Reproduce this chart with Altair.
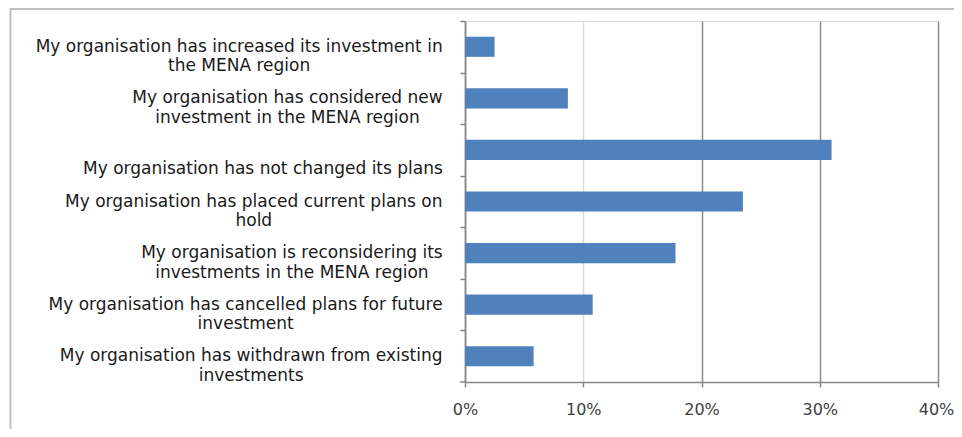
import altair as alt
import pandas as pd

# ---- data ----
label_lines = [
    ["My organisation has increased its investment in", "the MENA region"],
    ["My organisation has considered new", "investment in the MENA region"],
    ["My organisation has not changed its plans"],
    ["My organisation has placed current plans on", "hold"],
    ["My organisation is reconsidering its", "investments in the MENA region"],
    ["My organisation has cancelled plans for future", "investment"],
    ["My organisation has withdrawn from existing", "investments"],
]
shares = [0.025, 0.087, 0.310, 0.235, 0.178, 0.108, 0.058]
x_ticks = [0, 0.1, 0.2, 0.3, 0.4]

# ---- layout constants ----
W, H = 473, 361
FONT = "DejaVu Sans"
FS = 17
GAP = 22
STEP = H / len(label_lines)

# approximate DejaVu Sans advance widths (units per 2048 em)
ADV = {' ': 651, 'a': 1255, 'b': 1300, 'c': 1126, 'd': 1300, 'e': 1260, 'f': 721,
       'g': 1300, 'h': 1298, 'i': 569, 'j': 569, 'k': 1186, 'l': 569, 'm': 1995,
       'n': 1298, 'o': 1253, 'p': 1300, 'q': 1300, 'r': 842, 's': 1067, 't': 803,
       'u': 1298, 'v': 1212, 'w': 1675, 'x': 1212, 'y': 1212, 'z': 1075,
       'M': 1767, 'E': 1294, 'N': 1532, 'A': 1401}


def text_w(s):
    return sum(ADV.get(c, 1250) for c in s) / 2048 * FS


keys = [" ".join(l) for l in label_lines]
records = []
for key, lines, v in zip(keys, label_lines, shares):
    padded = [""] * (2 - len(lines)) + lines
    cx = -(GAP + max(text_w(s) for s in lines) / 2)
    records.append({"key": key, "lines": padded, "share": v, "cx": cx})

data = alt.Data(values=records)

y_enc = alt.Y(
    "key:N",
    sort=keys,
    scale=alt.Scale(paddingInner=0.61, paddingOuter=0.305),
    axis=alt.Axis(
        labels=False, title=None, grid=False,
        domainColor="#868686", domainWidth=1.5,
        tickColor="#868686", tickWidth=1.5, tickSize=5,
        tickOffset=-STEP / 2,
    ),
)

bars = alt.Chart(data).mark_bar(color="#4f81bd").encode(
    x=alt.X(
        "share:Q",
        scale=alt.Scale(domain=[0, 0.4], nice=False),
        axis=alt.Axis(
            values=x_ticks, format=".0%", title=None,
            labelFont=FONT, labelFontSize=16, labelColor="#404040",
            labelPadding=14, labelFlush=False,
            labelOffset={"condition": {"test": "datum.value > 0.35", "value": -2},
                         "value": 0},
            domainColor="#868686", domainWidth=1.5,
            tickColor="#868686", tickWidth=1.5, tickSize=5,
            grid=True, gridWidth=1.5,
            gridColor={"condition": {"test": "datum.value > 0.05 && datum.value < 0.15",
                                     "value": "#d9d9d9"},
                       "value": "#8c8c8c"},
        ),
    ),
    y=y_enc,
)

labels = alt.Chart(data).mark_text(
    align="center", baseline="middle", font=FONT, fontSize=FS,
    lineHeight=19.5, color="#1a1a1a",
).encode(
    x=alt.X("cx:Q", scale=None),
    y=y_enc,
    text="lines:N",
)

one = alt.Data(values=[{"a": 0}])
frame = alt.Chart(one).mark_rect(filled=False, stroke="#bfbfbf", strokeWidth=2).encode(
    x=alt.value(-454.5), x2=alt.value(W + 200),
    y=alt.value(-12), y2=alt.value(H + 200),
)
bottom_tick = alt.Chart(one).mark_rule(color="#868686", strokeWidth=1.5).encode(
    x=alt.value(-5), x2=alt.value(0), y=alt.value(H),
)

chart = alt.layer(frame, bars, labels, bottom_tick).properties(
    width=W, height=H,
    autosize="none",
    padding={"left": 457, "top": 13, "right": 16, "bottom": 47},
).configure_view(stroke=None).configure(font=FONT)

chart.save("out.html", embed_options={"renderer": "svg", "actions": False})
